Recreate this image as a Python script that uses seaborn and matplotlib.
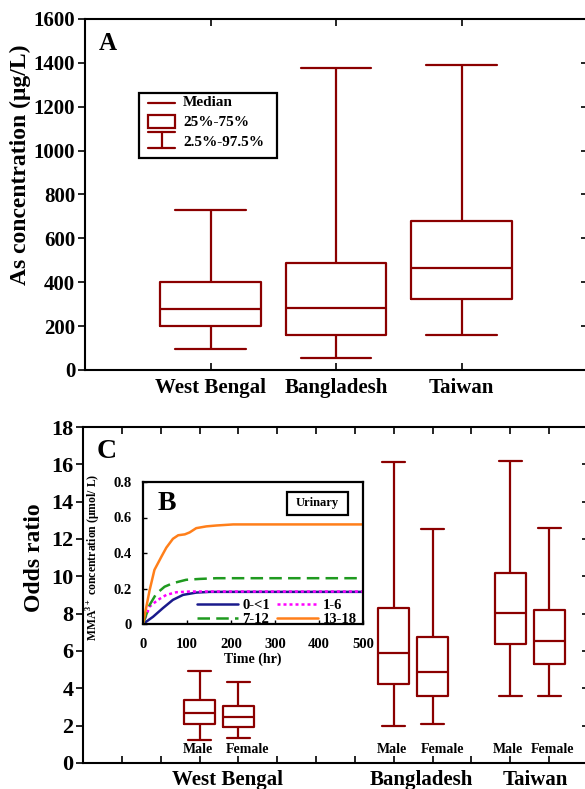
import numpy as np
import pandas as pd
import matplotlib
matplotlib.use('Agg')
import matplotlib.pyplot as plt
import seaborn as sns
from matplotlib.patches import Rectangle
from matplotlib.lines import Line2D
import matplotlib.transforms as mtransforms

# ---------------- data ----------------
# Panel A: As concentration (ug/L) summary statistics per region
regions = ['West Bengal', 'Bangladesh', 'Taiwan']
as_p2_5 = [95, 55, 160]
as_q25 = [200, 160, 322]
as_median = [277, 282, 463]
as_q75 = [403, 488, 677]
as_p97_5 = [728, 1377, 1390]

# Panel C: odds ratio summary statistics (male / female per region)
or_region = ['West Bengal', 'West Bengal', 'Bangladesh', 'Bangladesh', 'Taiwan', 'Taiwan']
or_sex = ['Male', 'Female', 'Male', 'Female', 'Male', 'Female']
or_p2_5 = [1.21, 1.36, 1.96, 2.07, 3.57, 3.57]
or_q25 = [2.10, 1.93, 4.21, 3.61, 6.39, 5.29]
or_median = [2.68, 2.46, 5.89, 4.89, 8.04, 6.54]
or_q75 = [3.39, 3.07, 8.32, 6.75, 10.20, 8.18]
or_p97_5 = [4.93, 4.32, 16.10, 12.54, 16.18, 12.60]

# Panel B: urinary MMA3+ concentration (umol/L) vs time (hr) per age group
t_0_1 = [0, 23, 45, 68, 91, 121, 152, 500]
v_0_1 = [0, 0.041, 0.089, 0.136, 0.164, 0.177, 0.181, 0.181]
t_1_6 = [0, 15, 34, 53, 76, 106, 500]
v_1_6 = [0, 0.098, 0.136, 0.164, 0.179, 0.183, 0.183]
t_7_12 = [0, 15, 30, 49, 68, 98, 129, 167, 500]
v_7_12 = [0, 0.107, 0.170, 0.210, 0.230, 0.249, 0.254, 0.258, 0.258]
t_13_18 = [0, 15, 26, 42, 53, 68, 80, 95, 106, 121, 144, 167, 205, 500]
v_13_18 = [0, 0.19, 0.305, 0.38, 0.43, 0.48, 0.50, 0.505, 0.516, 0.54, 0.55, 0.555, 0.561, 0.561]
age_labels = ['0-<1', '1-6', '7-12', '13-18']

# ---------------- style ----------------
sns.set_style('white')
plt.rcParams['font.family'] = ['Liberation Serif', 'DejaVu Serif']
plt.rcParams['font.weight'] = 'bold'
plt.rcParams['axes.labelweight'] = 'bold'
plt.rcParams['axes.edgecolor'] = 'black'
plt.rcParams['axes.linewidth'] = 1.5
plt.rcParams['xtick.color'] = 'black'
plt.rcParams['ytick.color'] = 'black'
plt.rcParams['text.color'] = 'black'
plt.rcParams['axes.labelcolor'] = 'black'
plt.rcParams['mathtext.fontset'] = 'custom'
plt.rcParams['mathtext.rm'] = 'Liberation Serif:bold'
plt.rcParams['mathtext.bf'] = 'Liberation Serif:bold'

RED = '#8B0000'
W, H = 585, 789


def rect(l, t, r, b):
    return [l / W, 1 - b / H, (r - l) / W, (b - t) / H]


fig = plt.figure(figsize=(W / 100, H / 100), dpi=100)
axA = fig.add_axes(rect(85, 19, 587, 370))
axC = fig.add_axes(rect(83, 427, 588, 763))
axB = fig.add_axes(rect(143, 482, 363, 624))

# ---------------- panel A ----------------
rowsA = []
for i, r in enumerate(regions):
    for v in (as_p2_5[i], as_q25[i], as_median[i], as_q75[i], as_p97_5[i]):
        rowsA.append((r, v))
dfA = pd.DataFrame(rowsA, columns=['region', 'conc'])

sns.boxplot(data=dfA, x='region', y='conc', order=regions, whis=(0, 100),
            width=0.8, fill=False, color=RED, linecolor=RED, linewidth=1.6,
            showfliers=False, capwidths=0.56, ax=axA)
axA.set_xlim(-1, 3)
axA.set_ylim(0, 1600)
axA.set_yticks(np.arange(0, 1601, 200))
axA.set_xlabel('')
axA.set_ylabel('As concentration (μg/L)', fontsize=17, fontweight='bold')
axA.yaxis.set_label_coords(-0.108, 0.584)
axA.tick_params(axis='y', direction='out', left=True, length=5, width=1.2,
                labelsize=15, pad=2)
axA.tick_params(axis='x', direction='in', bottom=True, top=True, length=5,
                width=1.2, labelsize=15, pad=6)
for lab in axA.get_xticklabels() + axA.get_yticklabels():
    lab.set_fontweight('bold')
for s in axA.spines.values():
    s.set_visible(True)
    s.set_linewidth(1.5)
secA = axA.secondary_yaxis('right')
secA.set_yticks(np.arange(0, 1601, 200))
secA.tick_params(direction='in', length=4, width=1.2, labelright=False)
axA.text(0.046, 0.929, 'A', transform=axA.transAxes, fontsize=18,
         fontweight='bold', ha='center', va='center')


# legend of panel A (drawn in axes fraction)
def fa(px, py):
    return (px - 85) / 502, (370 - py) / 351


x0, y0 = fa(139, 158)
x1, y1 = fa(277, 93)
axA.add_patch(Rectangle((x0, y0), x1 - x0, y1 - y0, transform=axA.transAxes,
                        fill=False, edgecolor='black', lw=1.6, zorder=5))
ixa, _ = fa(148, 0)
ixb, _ = fa(175, 0)
ixm, _ = fa(161.5, 0)
_, ym = fa(0, 103)
axA.add_line(Line2D([ixa, ixb], [ym, ym], transform=axA.transAxes, color=RED, lw=1.6))
_, yb0 = fa(0, 128)
_, yb1 = fa(0, 115)
axA.add_patch(Rectangle((ixa, yb0), ixb - ixa, yb1 - yb0, transform=axA.transAxes,
                        fill=False, edgecolor=RED, lw=1.6))
_, yw0 = fa(0, 148)
_, yw1 = fa(0, 132)
axA.add_line(Line2D([ixa, ixb], [yw1, yw1], transform=axA.transAxes, color=RED, lw=1.6))
axA.add_line(Line2D([ixa, ixb], [yw0, yw0], transform=axA.transAxes, color=RED, lw=1.6))
axA.add_line(Line2D([ixm, ixm], [yw0, yw1], transform=axA.transAxes, color=RED, lw=1.6))
tx, _ = fa(183, 0)
for label, py in [('Median', 103), ('25%-75%', 122), ('2.5%-97.5%', 142)]:
    _, ty = fa(0, py)
    axA.text(tx, ty, label, transform=axA.transAxes, fontsize=11,
             fontweight='bold', ha='left', va='center')

# ---------------- panel C ----------------
slots = ['s%d' % k for k in range(1, 13)]
box_slots = ['s3', 's4', 's8', 's9', 's11', 's12']
label_shift = [-0.05, 0.24, -0.05, 0.26, -0.05, 0.1]
rowsC = []
for i in range(len(or_sex)):
    for v in (or_p2_5[i], or_q25[i], or_median[i], or_q75[i], or_p97_5[i]):
        rowsC.append((box_slots[i], v))
dfC = pd.DataFrame(rowsC, columns=['slot', 'odds'])

sns.boxplot(data=dfC, x='slot', y='odds', order=slots, whis=(0, 100),
            width=0.8, fill=False, color=RED, linecolor=RED, linewidth=1.6,
            showfliers=False, capwidths=0.6, ax=axC)
axC.set_xlim(-1, 12)
axC.set_ylim(0, 18)
axC.set_yticks(np.arange(0, 19, 2))
axC.set_xticklabels([''] * len(slots))
axC.set_xlabel('')
axC.set_ylabel('Odds ratio', fontsize=17, fontweight='bold')
axC.yaxis.set_label_coords(-0.076, 0.61)
axC.tick_params(axis='y', direction='out', left=True, length=5, width=1.2,
                labelsize=16, pad=2)
axC.tick_params(axis='x', direction='in', bottom=True, top=True, length=5, width=1.2)
for lab in axC.get_yticklabels():
    lab.set_fontweight('bold')
for s in axC.spines.values():
    s.set_visible(True)
    s.set_linewidth(1.5)
secC = axC.secondary_yaxis('right')
secC.set_yticks(np.arange(0, 19, 2))
secC.tick_params(direction='in', length=4, width=1.2, labelright=False)
axC.text(0.046, 0.926, 'C', transform=axC.transAxes, fontsize=20,
         fontweight='bold', ha='center', va='center')

for i, sx in enumerate(or_sex):
    axC.text(slots.index(box_slots[i]) + label_shift[i], 0.72, sx, fontsize=10,
             fontweight='bold', ha='center', va='center')

blend = mtransforms.blended_transform_factory(axC.transData, axC.transAxes)
for name, gx in zip(regions, [2.73, 7.7, 10.65]):
    axC.text(gx, -0.02, name, transform=blend, fontsize=15, fontweight='bold',
             ha='center', va='top')

# ---------------- panel B (inset) ----------------
axB.set_facecolor('white')
sns.lineplot(x=t_0_1, y=v_0_1, color='#1a1a8c', lw=1.8, label=age_labels[0], ax=axB)
sns.lineplot(x=t_1_6, y=v_1_6, color='#ff00ff', lw=1.8, linestyle=(0, (1.2, 1.2)),
             label=age_labels[1], ax=axB)
sns.lineplot(x=t_7_12, y=v_7_12, color='#1f9a1f', lw=1.8, linestyle=(0, (5, 2.5)),
             label=age_labels[2], ax=axB)
sns.lineplot(x=t_13_18, y=v_13_18, color='#ff7f1a', lw=1.8, label=age_labels[3], ax=axB)
axB.set_xlim(0, 500)
axB.set_ylim(0, 0.8)
axB.set_xticks([0, 100, 200, 300, 400, 500])
axB.set_yticks([0, 0.2, 0.4, 0.6, 0.8])
axB.set_yticklabels(['0', '0.2', '0.4', '0.6', '0.8'])
axB.tick_params(axis='both', direction='in', left=True, bottom=True, length=3,
                width=1, labelsize=10.5)
axB.tick_params(axis='x', pad=10)
axB.tick_params(axis='y', pad=8)
for lab in axB.get_xticklabels() + axB.get_yticklabels():
    lab.set_fontweight('bold')
for s in axB.spines.values():
    s.set_visible(True)
    s.set_linewidth(1.6)
axB.set_xlabel('Time (hr)', fontsize=10, fontweight='bold', labelpad=1)
axB.set_ylabel('MMA$^{3+}$ concentration (μmol/ L)', fontsize=8.5, fontweight='bold')
axB.yaxis.set_label_coords(-0.18, 0.47)
axB.text(0.11, 0.85, 'B', transform=axB.transAxes, fontsize=20,
         fontweight='bold', ha='center', va='center')
axB.add_patch(Rectangle((0.655, 0.77), 0.275, 0.16, transform=axB.transAxes,
                        fill=False, edgecolor='black', lw=1.6))
axB.text(0.7925, 0.85, 'Urinary', transform=axB.transAxes, fontsize=9,
         fontweight='bold', ha='center', va='center')
h, l = axB.get_legend_handles_labels()
order = [0, 2, 1, 3]
axB.legend([h[i] for i in order], [l[i] for i in order], ncol=2, frameon=False,
           loc='lower left', bbox_to_anchor=(0.2, -0.085),
           handlelength=2.8, handletextpad=0.3, columnspacing=0.5,
           labelspacing=0.05, borderpad=0.2,
           prop={'weight': 'bold', 'size': 10.5})

fig.savefig('out.png', dpi=100)
